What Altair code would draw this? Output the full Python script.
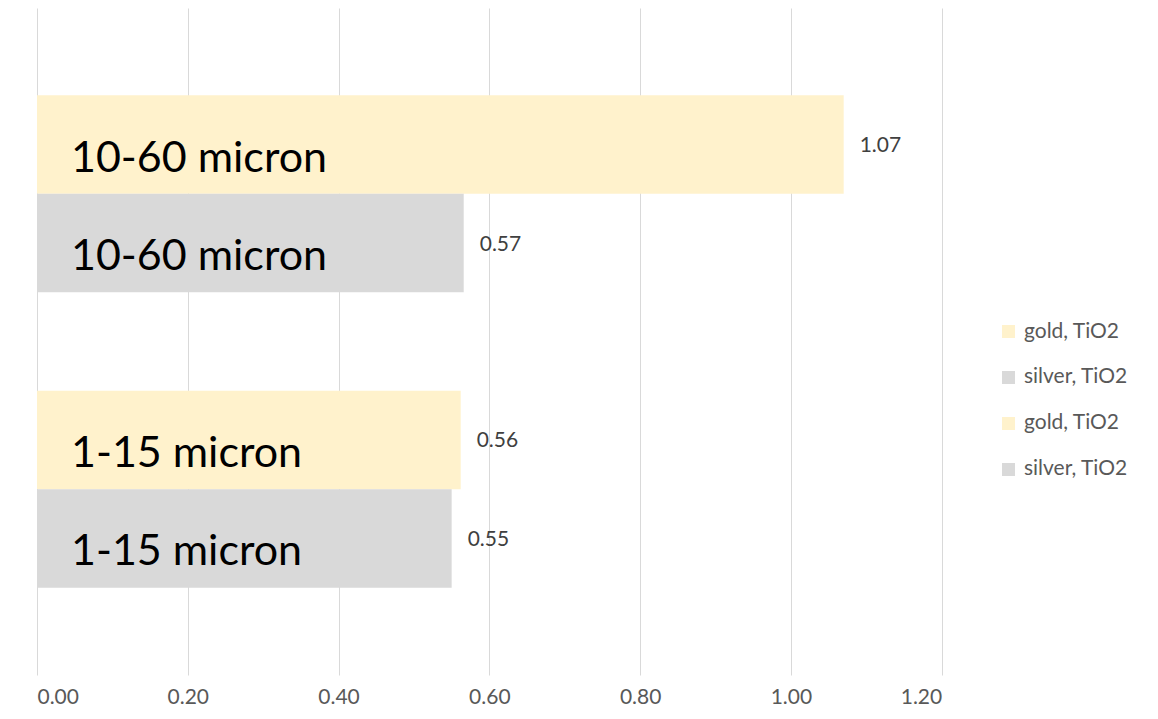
import altair as alt
import pandas as pd

# --- data ---
size_classes = ["10-60 micron", "10-60 micron", "1-15 micron", "1-15 micron"]
metals = ["gold", "silver", "gold", "silver"]
series = ["gold, TiO2 #1", "silver, TiO2 #2", "gold, TiO2 #3", "silver, TiO2 #4"]
values = [1.07, 0.566, 0.562, 0.55]

x_ticks = [0.0, 0.2, 0.4, 0.6, 0.8, 1.0, 1.2]
size_order = ["10-60 micron", "1-15 micron"]
metal_order = ["gold", "silver"]
series_colors = ["#FFF2CC", "#D9D9D9", "#FFF2CC", "#D9D9D9"]

df = pd.DataFrame({"size": size_classes, "metal": metals,
                   "series": series, "value": values})

FONT = "Lato"

y_enc = alt.Y("size:N", sort=size_order,
              scale=alt.Scale(domain=size_order, paddingInner=0.3333, paddingOuter=0.2953),
              axis=None)
yoff_enc = alt.YOffset("metal:N", sort=metal_order,
                       scale=alt.Scale(domain=metal_order, paddingInner=0, paddingOuter=0))
x_scale = alt.Scale(domain=[0, 1.2], nice=False, zero=True)

base = alt.Chart(df)

bars = base.mark_bar(cornerRadius=0).encode(
    x=alt.X("value:Q", scale=x_scale,
            axis=alt.Axis(values=x_ticks, format=".2f", title=None, domain=False,
                          ticks=False, tickSize=0, grid=True, gridColor="#D9D9D9",
                          gridWidth=1, labelFont=FONT, labelFontSize=21,
                          labelColor="#595959", labelPadding=23,
                          labelBaseline="middle")),
    y=y_enc,
    yOffset=yoff_enc,
    color=alt.Color("series:N",
                    scale=alt.Scale(domain=series, range=series_colors),
                    legend=alt.Legend(title=None, orient="none", legendX=961,
                                      legendY=313, padding=0, symbolType="square",
                                      symbolSize=170, symbolStrokeWidth=0,
                                      labelFont=FONT, labelFontSize=21,
                                      labelColor="#595959", labelOffset=5,
                                      rowPadding=24,
                                      labelExpr="split(datum.label, ' #')[0]")),
)

cat_labels = base.mark_text(align="left", baseline="alphabetic", dx=34, dy=27,
                            font=FONT, fontSize=43, color="#000000").encode(
    x=alt.X("zero:Q", scale=x_scale),
    y=y_enc,
    yOffset=yoff_enc,
    text="size:N",
).transform_calculate(zero="0")

val_labels = base.mark_text(align="left", baseline="middle", dx=16, dy=1.5,
                            font=FONT, fontSize=21, color="#404040").encode(
    x=alt.X("value:Q", scale=x_scale),
    y=y_enc,
    yOffset=yoff_enc,
    text=alt.Text("value:Q", format=".2f"),
)

chart = alt.layer(bars, cat_labels, val_labels).properties(
    width=904.7,
    height=667,
    autosize=alt.AutoSizeParams(type="none"),
    padding={"left": 29, "top": 0, "right": 208, "bottom": 36},
).configure(background="white").configure_view(stroke=None, strokeWidth=0)

chart.save("out.html", embed_options={"renderer": "svg", "actions": False})
